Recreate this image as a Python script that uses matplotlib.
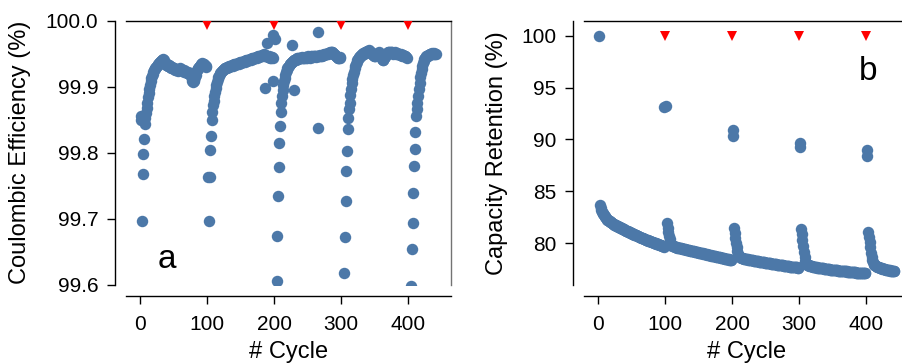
import numpy as np
import matplotlib
matplotlib.use("Agg")
import matplotlib.pyplot as plt

plt.rcParams['font.family'] = ['Liberation Sans', 'DejaVu Sans']

blue = '#4C78A8'

# ---- panel a: coulombic efficiency, one list per block of cycles ----
ce_start = [1, 102, 204, 305, 405]
ce_block1 = [99.856, 99.850, 99.697, 99.767, 99.798, 99.821, 99.844, 99.852, 99.860, 99.868,
             99.876, 99.884, 99.890, 99.897, 99.903, 99.908, 99.913, 99.917, 99.920, 99.923,
             99.925, 99.927, 99.929, 99.930, 99.932, 99.933, 99.934, 99.936, 99.937, 99.938,
             99.939, 99.940, 99.941, 99.942, 99.940, 99.938, 99.936, 99.935, 99.933, 99.934,
             99.932, 99.931, 99.933, 99.930, 99.931, 99.929, 99.930, 99.928, 99.929, 99.927,
             99.928, 99.926, 99.927, 99.925, 99.926, 99.924, 99.925, 99.927, 99.926, 99.928,
             99.927, 99.925, 99.926, 99.924, 99.925, 99.923, 99.924, 99.922, 99.923, 99.921,
             99.922, 99.921, 99.920, 99.921, 99.919, 99.916, 99.912, 99.909, 99.907, 99.908,
             99.910, 99.914, 99.918, 99.922, 99.925, 99.927, 99.929, 99.930, 99.931, 99.932,
             99.934, 99.935, 99.936, 99.935, 99.934, 99.933, 99.932, 99.931, 99.930]
ce_block2 = [99.763, 99.696, 99.763, 99.804, 99.825, 99.850, 99.862, 99.872, 99.879, 99.886,
             99.892, 99.898, 99.903, 99.907, 99.911, 99.914, 99.917, 99.919, 99.921, 99.923,
             99.924, 99.925, 99.926, 99.927, 99.928, 99.928, 99.929, 99.929, 99.930, 99.930,
             99.931, 99.930, 99.932, 99.931, 99.932, 99.933, 99.932, 99.933, 99.934, 99.933,
             99.934, 99.935, 99.934, 99.935, 99.936, 99.935, 99.936, 99.937, 99.936, 99.937,
             99.938, 99.937, 99.938, 99.939, 99.938, 99.939, 99.940, 99.939, 99.940, 99.941,
             99.940, 99.941, 99.942, 99.941, 99.942, 99.943, 99.942, 99.943, 99.944, 99.943,
             99.944, 99.945, 99.944, 99.945, 99.946, 99.945, 99.946, 99.947, 99.946, 99.947,
             99.948, 99.947, 99.948, 99.949, 99.948, 99.947, 99.946, 99.947, 99.946, 99.945,
             99.946, 99.945, 99.944, 99.945, 99.944, 99.945, 99.944]
ce_block3 = [99.606, 99.673, 99.734, 99.779, 99.814, 99.841, 99.862, 99.875, 99.886, 99.895,
             99.902, 99.908, 99.913, 99.918, 99.922, 99.925, 99.928, 99.930, 99.932, 99.934,
             99.935, 99.936, 99.937, 99.938, 99.939, 99.940, 99.940, 99.941, 99.941, 99.942,
             99.943, 99.942, 99.943, 99.944, 99.943, 99.944, 99.943, 99.944, 99.945, 99.944,
             99.943, 99.944, 99.945, 99.944, 99.945, 99.944, 99.945, 99.946, 99.945, 99.944,
             99.945, 99.946, 99.945, 99.946, 99.945, 99.946, 99.947, 99.946, 99.945, 99.946,
             99.947, 99.946, 99.947, 99.946, 99.947, 99.948, 99.947, 99.948, 99.947, 99.948,
             99.949, 99.948, 99.949, 99.950, 99.949, 99.950, 99.951, 99.950, 99.951, 99.952,
             99.951, 99.952, 99.953, 99.952, 99.951, 99.950, 99.949, 99.948, 99.947, 99.946,
             99.945, 99.944, 99.943, 99.944, 99.945, 99.944]
ce_block4 = [99.617, 99.672, 99.727, 99.772, 99.802, 99.836, 99.853, 99.866, 99.876, 99.887,
             99.897, 99.905, 99.912, 99.918, 99.923, 99.928, 99.932, 99.935, 99.938, 99.940,
             99.942, 99.944, 99.945, 99.946, 99.947, 99.948, 99.949, 99.950, 99.951, 99.950,
             99.951, 99.952, 99.953, 99.954, 99.953, 99.954, 99.955, 99.954, 99.953, 99.952,
             99.951, 99.950, 99.949, 99.948, 99.947, 99.946, 99.947, 99.948, 99.949, 99.950,
             99.951, 99.952, 99.951, 99.950, 99.948, 99.945, 99.942, 99.940, 99.941, 99.943,
             99.945, 99.947, 99.949, 99.950, 99.951, 99.952, 99.953, 99.952, 99.951, 99.952,
             99.953, 99.952, 99.951, 99.950, 99.951, 99.952, 99.951, 99.950, 99.951, 99.950,
             99.949, 99.950, 99.949, 99.948, 99.949, 99.948, 99.947, 99.948, 99.947, 99.946,
             99.947, 99.946, 99.945, 99.944]
ce_block5 = [99.598, 99.654, 99.694, 99.739, 99.780, 99.806, 99.831, 99.856, 99.866, 99.876,
             99.886, 99.897, 99.906, 99.914, 99.921, 99.927, 99.932, 99.936, 99.939, 99.942,
             99.944, 99.945, 99.946, 99.947, 99.948, 99.947, 99.948, 99.949, 99.950, 99.949,
             99.950, 99.951, 99.950, 99.951, 99.950, 99.949, 99.950]
ce_extra_cycles = [187, 189, 199, 199, 201, 226, 229, 266, 266]
ce_extra_values = [99.898, 99.966, 99.909, 99.978, 99.972, 99.963, 99.895, 99.983, 99.837]

# ---- panel b: capacity retention ----
cr_start = [3, 103, 203, 303, 403]
cr_block1 = [83.65, 83.42, 83.22, 83.05, 82.91, 82.79, 82.68, 82.58, 82.49, 82.41,
             82.34, 82.27, 82.21, 82.15, 82.10, 82.05, 82.00, 81.96, 81.92, 81.88,
             81.84, 81.80, 81.77, 81.73, 81.70, 81.66, 81.63, 81.59, 81.56, 81.52,
             81.49, 81.45, 81.42, 81.39, 81.35, 81.32, 81.29, 81.26, 81.22, 81.19,
             81.16, 81.13, 81.10, 81.07, 81.04, 81.01, 80.98, 80.95, 80.92, 80.89,
             80.86, 80.83, 80.80, 80.77, 80.74, 80.71, 80.68, 80.66, 80.63, 80.60,
             80.57, 80.54, 80.52, 80.49, 80.46, 80.43, 80.41, 80.38, 80.35, 80.33,
             80.30, 80.28, 80.25, 80.22, 80.20, 80.17, 80.15, 80.12, 80.10, 80.07,
             80.05, 80.02, 80.00, 79.97, 79.95, 79.93, 79.90, 79.88, 79.86, 79.83,
             79.81, 79.79, 79.76, 79.74, 79.72, 79.69, 79.67]
cr_block2 = [81.90, 81.50, 81.10, 80.72, 80.38, 80.10, 79.92, 79.82, 79.76, 79.72,
             79.69, 79.66, 79.64, 79.62, 79.60, 79.58, 79.56, 79.55, 79.53, 79.52,
             79.50, 79.49, 79.47, 79.46, 79.44, 79.43, 79.41, 79.40, 79.38, 79.37,
             79.35, 79.34, 79.32, 79.31, 79.29, 79.28, 79.26, 79.25, 79.23, 79.22,
             79.20, 79.19, 79.17, 79.16, 79.14, 79.13, 79.11, 79.10, 79.08, 79.07,
             79.05, 79.04, 79.02, 79.01, 78.99, 78.98, 78.96, 78.95, 78.93, 78.92,
             78.90, 78.89, 78.87, 78.86, 78.84, 78.83, 78.81, 78.80, 78.78, 78.77,
             78.75, 78.74, 78.72, 78.71, 78.69, 78.68, 78.66, 78.65, 78.63, 78.62,
             78.60, 78.59, 78.57, 78.56, 78.54, 78.53, 78.51, 78.50, 78.48, 78.47,
             78.46, 78.44, 78.43, 78.42, 78.40, 78.39, 78.38]
cr_block3 = [81.45, 81.00, 80.52, 80.05, 79.60, 79.20, 78.92, 78.78, 78.70, 78.65,
             78.61, 78.58, 78.56, 78.54, 78.52, 78.50, 78.49, 78.47, 78.46, 78.44,
             78.43, 78.42, 78.40, 78.39, 78.38, 78.37, 78.35, 78.34, 78.33, 78.32,
             78.31, 78.29, 78.28, 78.27, 78.26, 78.25, 78.24, 78.23, 78.21, 78.20,
             78.19, 78.18, 78.17, 78.16, 78.15, 78.14, 78.13, 78.11, 78.10, 78.09,
             78.08, 78.07, 78.06, 78.05, 78.04, 78.03, 78.02, 78.01, 78.00, 77.99,
             77.98, 77.97, 77.96, 77.95, 77.94, 77.93, 77.92, 77.91, 77.90, 77.89,
             77.88, 77.87, 77.86, 77.85, 77.84, 77.83, 77.82, 77.81, 77.80, 77.79,
             77.78, 77.77, 77.76, 77.75, 77.74, 77.74, 77.73, 77.72, 77.71, 77.70,
             77.69, 77.68, 77.68, 77.67, 77.66, 77.65, 77.64]
cr_block4 = [81.35, 80.85, 80.30, 79.72, 79.15, 78.62, 78.28, 78.10, 78.00, 77.94,
             77.90, 77.87, 77.84, 77.82, 77.80, 77.78, 77.76, 77.75, 77.73, 77.72,
             77.70, 77.69, 77.68, 77.66, 77.65, 77.64, 77.63, 77.62, 77.61, 77.60,
             77.59, 77.58, 77.57, 77.56, 77.55, 77.54, 77.53, 77.52, 77.51, 77.50,
             77.49, 77.48, 77.47, 77.46, 77.45, 77.45, 77.44, 77.43, 77.42, 77.41,
             77.40, 77.40, 77.39, 77.38, 77.37, 77.36, 77.36, 77.35, 77.34, 77.33,
             77.33, 77.32, 77.31, 77.30, 77.30, 77.29, 77.28, 77.27, 77.27, 77.26,
             77.25, 77.25, 77.24, 77.23, 77.22, 77.22, 77.21, 77.20, 77.20, 77.19,
             77.18, 77.18, 77.17, 77.16, 77.16, 77.15, 77.14, 77.14, 77.13, 77.12,
             77.12, 77.11, 77.11, 77.10, 77.09, 77.09, 77.08]
cr_block5 = [81.10, 80.62, 80.12, 79.60, 79.10, 78.65, 78.33, 78.14, 78.02, 77.94,
             77.88, 77.83, 77.79, 77.75, 77.72, 77.69, 77.66, 77.64, 77.61, 77.59,
             77.57, 77.55, 77.53, 77.51, 77.49, 77.47, 77.46, 77.44, 77.43, 77.41,
             77.40, 77.38, 77.37, 77.35, 77.34, 77.33, 77.31, 77.30, 77.29, 77.27]

# reference performance tests (capacity checks)
rpt_cycles = [2, 99, 102, 201, 202, 301, 302, 401, 402]
rpt_values = [100.0, 93.1, 93.25, 90.35, 90.9, 89.25, 89.7, 88.4, 88.95]

# red markers = check-up cycles
mark_cycles = [100, 200, 300, 400]
mark_ce = 99.9935
mark_cr = 100.0

xticks = [0, 100, 200, 300, 400]


def stack(starts, blocks):
    xs, ys = [], []
    for s, b in zip(starts, blocks):
        xs.extend(range(s, s + len(b)))
        ys.extend(b)
    return np.array(xs), np.array(ys)


ce_x, ce_y = stack(ce_start, [ce_block1, ce_block2, ce_block3, ce_block4, ce_block5])
ce_x = np.concatenate([ce_x, ce_extra_cycles])
ce_y = np.concatenate([ce_y, ce_extra_values])
cr_x, cr_y = stack(cr_start, [cr_block1, cr_block2, cr_block3, cr_block4, cr_block5])
cr_x = np.concatenate([cr_x, rpt_cycles])
cr_y = np.concatenate([cr_y, rpt_values])

fig = plt.figure(figsize=(9.02, 3.64), dpi=100)
ax1 = fig.add_axes([0.1397, 0.218, 0.3603, 0.725])
ax2 = fig.add_axes([0.6475, 0.218, 0.3603, 0.725])

for ax in (ax1, ax2):
    for side in ('left', 'bottom'):
        ax.spines[side].set_position(('outward', 8))
    for sp in ax.spines.values():
        sp.set_linewidth(1.0)
    ax.tick_params(direction='out', length=6, width=1.0, labelsize=15)
    ax.tick_params(axis='y', pad=6)
    ax.tick_params(axis='x', pad=8)
    ax.set_xlim(-21, 464)
    ax.set_xticks(xticks)
    ax.set_xlabel('# Cycle', fontsize=17, va='center')
    ax.xaxis.set_label_coords(0.5, -0.254)

ax1.spines['right'].set_color('0.45')

ax1.scatter(ce_x, ce_y, s=68, color=blue, linewidths=0, zorder=2)
ax1.plot(mark_cycles, [mark_ce] * len(mark_cycles), 'v', color='red', ms=6.5, mew=0, zorder=3)
ax1.set_ylim(99.6, 100.0)
ax1.set_yticks([99.6, 99.7, 99.8, 99.9, 100.0])
ax1.set_yticklabels(['99.6', '99.7', '99.8', '99.9', '100.0'])
ax1.set_ylabel('Coulombic Efficiency (%)', fontsize=17, va='center')
ax1.yaxis.set_label_coords(-0.326, 0.5)
ax1.text(0.125, 0.097, 'a', transform=ax1.transAxes, fontsize=24, ha='center', va='center')

ax2.scatter(cr_x, cr_y, s=68, color=blue, linewidths=0, zorder=2)
ax2.plot(mark_cycles, [mark_cr] * len(mark_cycles), 'v', color='red', ms=6.5, mew=0, zorder=3)
ax2.set_ylim(76.0, 101.45)
ax2.set_yticks([80, 85, 90, 95, 100])
ax2.set_ylabel('Capacity Retention (%)', fontsize=17, va='center')
ax2.yaxis.set_label_coords(-0.268, 0.5)
ax2.text(0.874, 0.807, 'b', transform=ax2.transAxes, fontsize=24, ha='center', va='center')

fig.savefig('out.png', dpi=100)
